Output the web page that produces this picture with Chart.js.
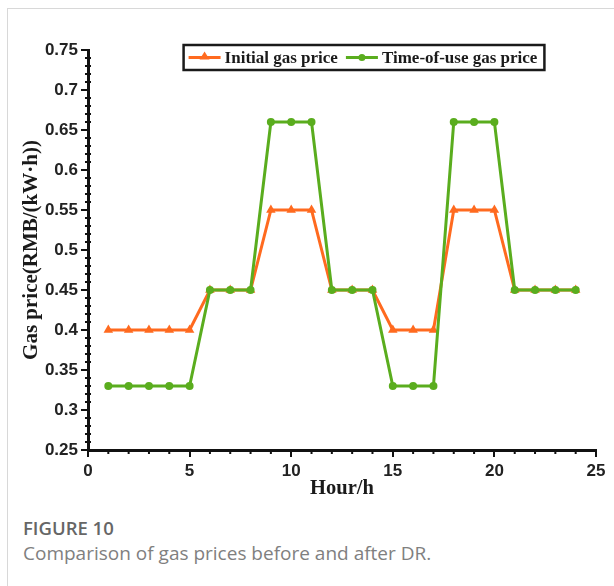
<!DOCTYPE html>
<html>
<head>
<meta charset="utf-8">
<script src="https://cdn.jsdelivr.net/npm/chart.js@4.4.1/dist/chart.umd.min.js"></script>
<style>
  html, body { margin: 0; padding: 0; background: #fff; }
  body { width: 614px; height: 586px; position: relative; overflow: hidden; }
  .frame { position: absolute; left: 7px; top: 8px; right: 0; bottom: 0;
           border-left: 1px solid #d8d8d8; border-top: 1px solid #d8d8d8; }
  #wrap { position: absolute; left: 8px; top: 9px; width: 606px; height: 492px; }
  .fig { position: absolute; left: 23px; top: 515px; font-family: "Open Sans", sans-serif;
         font-size: 18.5px; font-weight: 600; color: #666; }
  .cap { position: absolute; left: 23px; top: 540px; font-family: "Open Sans", sans-serif;
         font-size: 19px; color: #808080; }
</style>
</head>
<body>
<div class="frame"></div>
<div id="wrap"><canvas id="c"></canvas></div>
<div class="fig">FIGURE 10</div>
<div class="cap">Comparison of gas prices before and after DR.</div>
<script>
const hours = [1,2,3,4,5,6,7,8,9,10,11,12,13,14,15,16,17,18,19,20,21,22,23,24]
const initialPrice = [0.40,0.40,0.40,0.40,0.40,0.45,0.45,0.45,0.55,0.55,0.55,0.45,0.45,0.45,0.40,0.40,0.40,0.55,0.55,0.55,0.45,0.45,0.45,0.45]
const touPrice = [0.33,0.33,0.33,0.33,0.33,0.45,0.45,0.45,0.66,0.66,0.66,0.45,0.45,0.45,0.33,0.33,0.33,0.66,0.66,0.66,0.45,0.45,0.45,0.45]
const xTicks = [0,5,10,15,20,25]
const yTicks = [0.25,0.3,0.35,0.4,0.45,0.5,0.55,0.6,0.65,0.7,0.75]

const orange = '#ff6a1f'
const green = '#5aad1e'
const serif = '"Liberation Serif", "Times New Roman", serif'
const sans = '"Liberation Sans", Arial, sans-serif'

// minor ticks + boxed legend
const extras = {
  id: 'extras',
  afterDraw(chart) {
    const ctx = chart.ctx
    const x = chart.scales.x, y = chart.scales.y
    const a = chart.chartArea
    ctx.save()
    ctx.strokeStyle = '#111'
    ctx.lineWidth = 2
    ctx.beginPath()
    for (let v = 1; v < 25; v++) {
      if (v % 5 === 0) continue
      const px = x.getPixelForValue(v)
      ctx.moveTo(px, a.bottom); ctx.lineTo(px, a.bottom + 4)
    }
    for (let i = 26; i < 75; i++) {
      if (i % 5 === 0) continue
      const py = y.getPixelForValue(i / 100)
      ctx.moveTo(a.left - 3, py); ctx.lineTo(a.left + 3, py)
    }
    ctx.stroke()

    // legend
    const items = chart.data.datasets
    ctx.font = 'bold 17px ' + serif
    const sample = 32, gap = 4, sep = 8
    let w = 6
    items.forEach((d, i) => { w += sample + gap + ctx.measureText(d.label).width + (i ? 0 : sep) })
    w += 6
    const cx = 356, top = 36, h = 25
    let lx = cx - w / 2
    ctx.lineWidth = 2.5
    ctx.strokeStyle = '#1a1a1a'
    ctx.strokeRect(lx, top, w, h)
    const my = top + h / 2
    lx += 5
    items.forEach(d => {
      ctx.strokeStyle = d.borderColor
      ctx.fillStyle = d.borderColor
      ctx.lineWidth = 3
      ctx.beginPath(); ctx.moveTo(lx, my); ctx.lineTo(lx + sample, my); ctx.stroke()
      const mx = lx + sample / 2
      ctx.beginPath()
      if (d.pointStyle === 'triangle') {
        ctx.moveTo(mx, my - 6); ctx.lineTo(mx + 5, my + 2); ctx.lineTo(mx - 5, my + 2)
      } else {
        ctx.arc(mx, my, 3.5, 0, Math.PI * 2)
      }
      ctx.fill()
      lx += sample + gap
      ctx.fillStyle = '#1a1a1a'
      ctx.textBaseline = 'middle'
      ctx.fillText(d.label, lx, my + 1)
      lx += ctx.measureText(d.label).width + sep
    })
    ctx.restore()
  }
}

new Chart(document.getElementById('c'), {
  type: 'line',
  data: {
    datasets: [
      {
        label: 'Initial gas price',
        data: hours.map((h, i) => ({x: h, y: initialPrice[i]})),
        borderColor: orange, backgroundColor: orange,
        borderWidth: 3, pointStyle: 'triangle', pointRadius: 5.5,
        pointBorderWidth: 0, order: 1
      },
      {
        label: 'Time-of-use gas price',
        data: hours.map((h, i) => ({x: h, y: touPrice[i]})),
        borderColor: green, backgroundColor: green,
        borderWidth: 3, pointStyle: 'circle', pointRadius: 4,
        pointBorderWidth: 0, order: 0
      }
    ]
  },
  options: {
    responsive: true,
    maintainAspectRatio: false,
    animation: false,
    layout: { padding: { top: 41, right: 18, left: 0, bottom: 0 } },
    plugins: { legend: { display: false }, tooltip: { enabled: false } },
    scales: {
      x: {
        type: 'linear', min: 0, max: 25,
        afterBuildTicks: s => { s.ticks = xTicks.map(v => ({value: v})) },
        afterFit: s => { s.height = 51 },
        grid: { drawOnChartArea: false, drawTicks: true, tickLength: 7, color: '#111', lineWidth: 2 },
        border: { color: '#111', width: 3 },
        ticks: { color: '#222', font: { family: sans, size: 17, weight: 'bold' }, padding: 4, maxRotation: 0 },
        title: { display: true, text: 'Hour/h', color: '#1a1a1a',
                 font: { family: serif, size: 20.5, weight: 'bold' }, padding: { top: -9, bottom: 0 } }
      },
      y: {
        min: 0.25, max: 0.75,
        afterBuildTicks: s => { s.ticks = yTicks.map(v => ({value: v})) },
        afterFit: s => { s.width = 80 },
        grid: { drawOnChartArea: false, drawTicks: true, tickLength: 7, color: '#111', lineWidth: 2 },
        border: { color: '#111', width: 3 },
        ticks: { color: '#222', font: { family: sans, size: 17, weight: 'bold' }, padding: 3,
                 callback: v => String(Math.round(v * 100) / 100) },
        title: { display: true, text: 'Gas price(RMB/(kW·h))', color: '#1a1a1a',
                 font: { family: serif, size: 21, weight: 'bold' }, padding: { top: 11, bottom: 0 } }
      }
    }
  },
  plugins: [extras]
})
</script>
</body>
</html>
